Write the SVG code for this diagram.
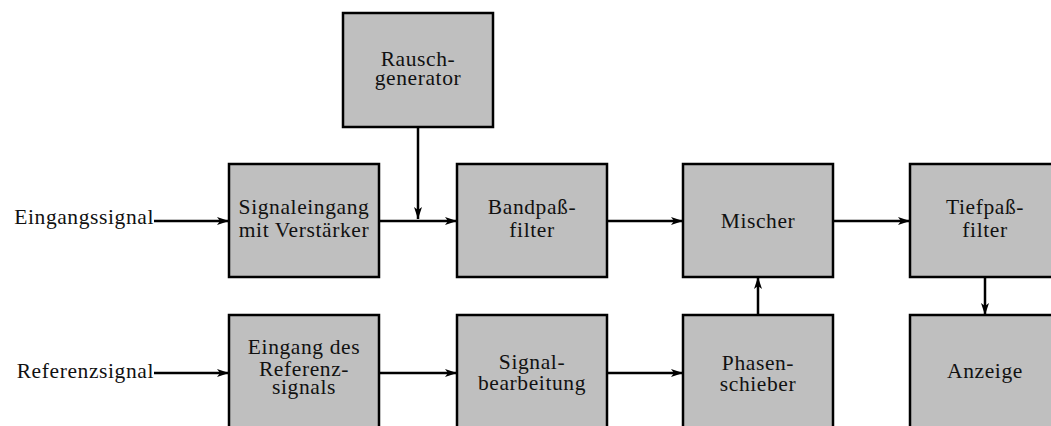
<svg xmlns="http://www.w3.org/2000/svg" width="1051" height="426" viewBox="0 0 1051 426">
<style>
.box{fill:#bfbfbf;stroke:#000;stroke-width:2.5}
.t{font-family:"Liberation Serif","Times New Roman",serif;font-size:21.5px;letter-spacing:0.6px;fill:#111;text-anchor:middle}
.l{font-family:"Liberation Serif","Times New Roman",serif;font-size:21.5px;letter-spacing:0.6px;fill:#111;text-anchor:end}
.c{fill:none;stroke:#000;stroke-width:2.5;marker-end:url(#ah)}
</style>
<defs>
<marker id="ah" markerUnits="userSpaceOnUse" markerWidth="14" markerHeight="10" refX="12" refY="5" orient="auto">
<path d="M0,1 L12,5 L0,9 L3,5 Z" fill="#000"/>
</marker>
</defs>
<rect width="1051" height="426" fill="#fff"/>
<g id="connectors">
<path class="c" d="M154,221 H229"/>
<path class="c" d="M379,221 H457"/>
<path class="c" d="M418,127 V219"/>
<path class="c" d="M607,221 H683"/>
<path class="c" d="M833,221 H910"/>
<path class="c" d="M154,373 H229"/>
<path class="c" d="M379,373 H457"/>
<path class="c" d="M607,373 H683"/>
<path class="c" d="M758,315 V277"/>
<path class="c" d="M985,277 V315"/>
</g>
<g id="label-eingangssignal"><text class="l" x="154" y="224">Eingangssignal</text></g>
<g id="label-referenzsignal"><text class="l" x="154" y="378">Referenzsignal</text></g>
<g id="rauschgenerator">
<rect class="box" x="343" y="13" width="150" height="114"/>
<text class="t" x="418" y="66">Rausch-</text>
<text class="t" x="418" y="85">generator</text>
</g>
<g id="signaleingang">
<rect class="box" x="229" y="164" width="150" height="113"/>
<text class="t" x="304" y="214">Signaleingang</text>
<text class="t" x="304" y="237">mit Verstärker</text>
</g>
<g id="bandpass">
<rect class="box" x="457" y="164" width="150" height="113"/>
<text class="t" x="532" y="214">Bandpaß-</text>
<text class="t" x="532" y="237">filter</text>
</g>
<g id="mischer">
<rect class="box" x="683" y="164" width="150" height="113"/>
<text class="t" x="758" y="228">Mischer</text>
</g>
<g id="tiefpass">
<rect class="box" x="910" y="164" width="150" height="113"/>
<text class="t" x="985" y="214">Tiefpaß-</text>
<text class="t" x="985" y="237">filter</text>
</g>
<g id="eingang-referenz">
<rect class="box" x="229" y="315" width="150" height="114"/>
<text class="t" x="304" y="354">Eingang des</text>
<text class="t" x="304" y="376">Referenz-</text>
<text class="t" x="304" y="394">signals</text>
</g>
<g id="signalbearbeitung">
<rect class="box" x="457" y="315" width="150" height="114"/>
<text class="t" x="532" y="369">Signal-</text>
<text class="t" x="532" y="390">bearbeitung</text>
</g>
<g id="phasenschieber">
<rect class="box" x="683" y="315" width="150" height="114"/>
<text class="t" x="758" y="370">Phasen-</text>
<text class="t" x="758" y="391">schieber</text>
</g>
<g id="anzeige">
<rect class="box" x="910" y="315" width="150" height="114"/>
<text class="t" x="985" y="378">Anzeige</text>
</g>
</svg>
